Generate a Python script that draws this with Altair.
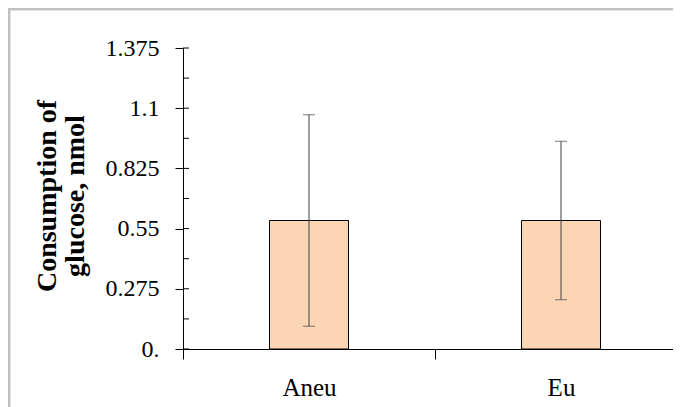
import altair as alt
import pandas as pd

categories = ["Aneu", "Eu"]
means = [0.587, 0.587]
errors = [0.483, 0.362]
tick_values = [0.0, 0.275, 0.55, 0.825, 1.1, 1.375]
minor_values = [0.1375, 0.4125, 0.6875, 0.9625, 1.2375]

df = pd.DataFrame({"cat": categories, "mean": means, "err": errors})
df["lo"] = df["mean"] - df["err"]
df["hi"] = df["mean"] + df["err"]
ticks_df = pd.DataFrame({"v": tick_values + minor_values})

FONT = "Liberation Serif, 'Times New Roman', Times, serif"
H = 301
W = 490

xscale = alt.Scale(domain=categories, range=[0, 504], paddingInner=0, paddingOuter=0)
yscale = alt.Scale(domain=[0, 1.375], nice=False, zero=True)

xaxis = alt.Axis(title=None, tickBand="extent", tickSize=10, labelPadding=16, grid=False,
                 labelFont=FONT, labelFontSize=25, labelColor="black",
                 domainColor="black", tickColor="black", labelAngle=0)
yaxis = alt.Axis(title=["Consumption of", "glucose, nmol"], values=tick_values,
                 labelExpr="datum.value == 0 ? '0.' : format(datum.value, '.4~f')",
                 tickSize=8, labelPadding=16, grid=False,
                 labelFont=FONT, labelFontSize=24, labelColor="black",
                 domainColor="black", tickColor="black",
                 titleFont=FONT, titleFontSize=28, titleFontWeight="bold",
                 titleColor="black", titleAngle=-90, titleAlign="center",
                 titleBaseline="middle", titleX=-136, titleY=H / 2 - 3, titleLineHeight=28)

bars = alt.Chart(df).mark_bar(width=79, fill="#FCD5B4", stroke="black", strokeWidth=1).encode(
    x=alt.X("cat:N", scale=xscale, axis=xaxis, sort=categories),
    y=alt.Y("mean:Q", scale=yscale, axis=yaxis),
)
err = alt.Chart(df).mark_rule(color="#404040", strokeWidth=1).encode(
    x=alt.X("cat:N", scale=xscale, sort=categories),
    y=alt.Y("lo:Q", scale=yscale),
    y2="hi:Q",
)
cap_hi = alt.Chart(df).mark_tick(orient="horizontal", size=12, thickness=1, color="#404040").encode(
    x=alt.X("cat:N", scale=xscale, sort=categories),
    y=alt.Y("hi:Q", scale=yscale),
)
cap_lo = alt.Chart(df).mark_tick(orient="horizontal", size=12, thickness=1, color="#404040").encode(
    x=alt.X("cat:N", scale=xscale, sort=categories),
    y=alt.Y("lo:Q", scale=yscale),
)
inner_ticks = alt.Chart(ticks_df).mark_rule(color="black", strokeWidth=1).encode(
    x=alt.value(0), x2=alt.value(6),
    y=alt.Y("v:Q", scale=yscale),
)
border_left = alt.Chart(df).mark_rule(color="#c0c0c0", strokeWidth=2.5).encode(
    x=alt.value(-174), y=alt.value(-39), y2=alt.value(H + 60),
)
border_top = alt.Chart(df).mark_rule(color="#c0c0c0", strokeWidth=2.5).encode(
    x=alt.value(-175), x2=alt.value(W), y=alt.value(-39),
)

chart = alt.layer(border_left, border_top, bars, err, cap_hi, cap_lo, inner_ticks).properties(
    width=W, height=H,
    background="white",
    padding={"left": 175, "top": 40, "right": 0, "bottom": 58},
    autosize=alt.AutoSizeParams(type="none"),
).configure(
    style={"cell": {"stroke": "transparent", "strokeWidth": 0}}
).configure_view(
    strokeWidth=0, stroke="transparent", strokeOpacity=0
)

chart.save("out.html", embed_options={"renderer": "svg", "actions": False})
